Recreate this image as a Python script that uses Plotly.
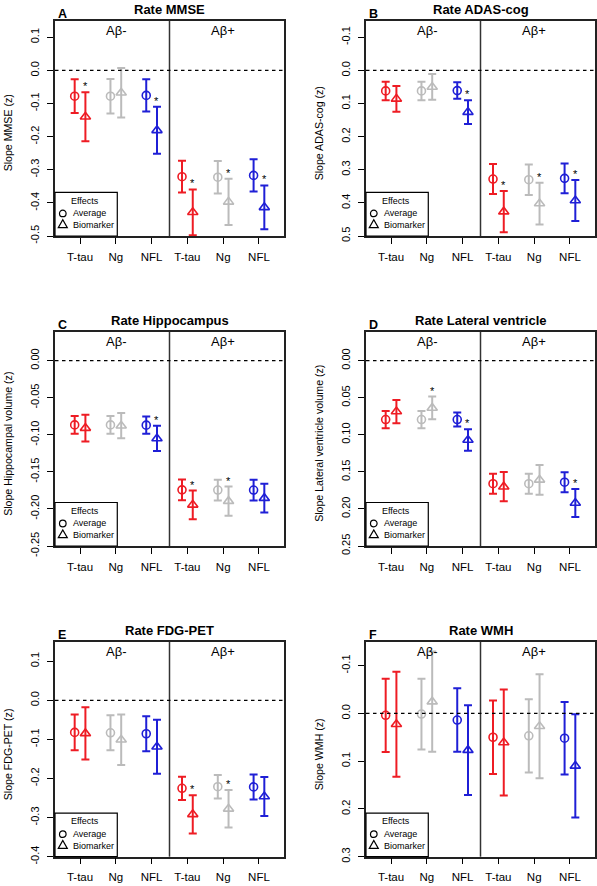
import plotly.graph_objects as go

W, H = 597, 886

# ---------------- data ----------------
biomarkers = ["T-tau", "Ng", "NFL"]
groups = ["Aβ-", "Aβ+"]
x_ticktext = biomarkers * 2
colors = ["#EE1C24", "#BBBBBB", "#1F1FD6"]

titles = ["Rate MMSE", "Rate ADAS-cog", "Rate Hippocampus",
          "Rate Lateral ventricle", "Rate FDG-PET", "Rate WMH"]
letters = ["A", "B", "C", "D", "E", "F"]
ytitles = ["Slope MMSE (z)", "Slope ADAS-cog (z)", "Slope Hippocampal volume (z)",
           "Slope Lateral ventricle volume (z)", "Slope FDG-PET (z)", "Slope WMH (z)"]

# order: T-tau, Ng, NFL (Aβ-), T-tau, Ng, NFL (Aβ+)
mmse_avg = [-0.078, -0.078, -0.0755, -0.321, -0.3225, -0.317]
mmse_avg_err = [0.051, 0.052, 0.049, 0.048, 0.049, 0.049]
mmse_bio = [-0.140, -0.0675, -0.181, -0.4285, -0.397, -0.4135]
mmse_bio_err = [0.074, 0.075, 0.071, 0.069, 0.070, 0.066]
mmse_stars = [0, 2, 3, 4, 5]

adas_avg = [0.062, 0.062, 0.061, 0.328, 0.330, 0.326]
adas_avg_err = [0.028, 0.028, 0.025, 0.045, 0.046, 0.045]
adas_bio = [0.086, 0.050, 0.126, 0.4265, 0.402, 0.393]
adas_bio_err = [0.039, 0.039, 0.036, 0.062, 0.063, 0.062]
adas_stars = [2, 3, 4, 5]

hippo_avg = [-0.0867, -0.0867, -0.087, -0.1743, -0.1745, -0.1745]
hippo_avg_err = [0.012, 0.012, 0.0117, 0.014, 0.014, 0.014]
hippo_bio = [-0.091, -0.0878, -0.105, -0.1945, -0.1895, -0.1855]
hippo_bio_err = [0.018, 0.017, 0.017, 0.0193, 0.0197, 0.0193]
hippo_stars = [2, 3, 4]

vent_avg = [0.0795, 0.0795, 0.0795, 0.166, 0.166, 0.164]
vent_avg_err = [0.0117, 0.0117, 0.0094, 0.0135, 0.0135, 0.0135]
vent_bio = [0.0687, 0.0638, 0.107, 0.170, 0.1608, 0.192]
vent_bio_err = [0.0157, 0.0153, 0.0146, 0.0198, 0.0202, 0.0189]
vent_stars = [1, 2, 5]

fdg_avg = [-0.082, -0.083, -0.0855, -0.225, -0.221, -0.2215]
fdg_avg_err = [0.0455, 0.0446, 0.0446, 0.0298, 0.0298, 0.032]
fdg_bio = [-0.0846, -0.101, -0.1186, -0.2917, -0.2776, -0.246]
fdg_bio_err = [0.0668, 0.0646, 0.069, 0.049, 0.048, 0.050]
fdg_stars = [3, 4]

wmh_avg = [0.004, 0.0014, 0.014, 0.050, 0.047, 0.052]
wmh_avg_err = [0.0766, 0.074, 0.0664, 0.077, 0.0766, 0.076]
wmh_bio = [0.0227, -0.0245, 0.077, 0.061, 0.027, 0.110]
wmh_bio_err = [0.110, 0.105, 0.094, 0.111, 0.109, 0.108]
wmh_stars = []

ytickvals = [
    [-0.5, -0.4, -0.3, -0.2, -0.1, 0.0, 0.1],
    [-0.1, 0.0, 0.1, 0.2, 0.3, 0.4, 0.5],
    [-0.25, -0.20, -0.15, -0.10, -0.05, 0.00],
    [0.00, 0.05, 0.10, 0.15, 0.20, 0.25],
    [-0.4, -0.3, -0.2, -0.1, 0.0, 0.1],
    [-0.1, 0.0, 0.1, 0.2, 0.3],
]
yticktext = [
    ["-0.5", "-0.4", "-0.3", "-0.2", "-0.1", "0.0", "0.1"],
    ["-0.1", "0.0", "0.1", "0.2", "0.3", "0.4", "0.5"],
    ["-0.25", "-0.20", "-0.15", "-0.10", "-0.05", "0.00"],
    ["0.00", "0.05", "0.10", "0.15", "0.20", "0.25"],
    ["-0.4", "-0.3", "-0.2", "-0.1", "0.0", "0.1"],
    ["-0.1", "0.0", "0.1", "0.2", "0.3"],
]
yranges = [[-0.5, 0.15], [0.5, -0.15], [-0.25, 0.039],
           [0.25, -0.039], [-0.4, 0.15], [0.3, -0.15]]

panels = [
    (mmse_avg, mmse_avg_err, mmse_bio, mmse_bio_err, mmse_stars),
    (adas_avg, adas_avg_err, adas_bio, adas_bio_err, adas_stars),
    (hippo_avg, hippo_avg_err, hippo_bio, hippo_bio_err, hippo_stars),
    (vent_avg, vent_avg_err, vent_bio, vent_bio_err, vent_stars),
    (fdg_avg, fdg_avg_err, fdg_bio, fdg_bio_err, fdg_stars),
    (wmh_avg, wmh_avg_err, wmh_bio, wmh_bio_err, wmh_stars),
]

# ---------------- layout geometry ----------------
col_px = [(55, 284), (366, 595)]
row_px = [(20.7, 236), (331.7, 546), (641.7, 856.7)]
OFF = 0.15
FONT = "Liberation Sans, Arial, sans-serif"

fig = go.Figure()
layout = dict(width=W, height=H, margin=dict(l=0, r=0, t=0, b=0, autoexpand=False),
              paper_bgcolor="white", plot_bgcolor="white", showlegend=False,
              font=dict(family=FONT, color="black"))
shapes, annotations = [], []

for k, (avg, avg_err, bio, bio_err, stars) in enumerate(panels):
    row, col = divmod(k, 2)
    sfx = "" if k == 0 else str(k + 1)
    xr, yr = "x" + sfx, "y" + sfx
    (xl, xrpx), (yt, yb) = col_px[col], row_px[row]
    xdom = [xl / W, xrpx / W]
    ydom = [1 - yb / H, 1 - yt / H]
    layout["xaxis" + sfx] = dict(
        domain=xdom, anchor=yr, range=[0.3, 6.7], automargin=False,
        tickvals=[1, 2, 3, 4, 5, 6], ticktext=x_ticktext,
        ticks="outside", ticklen=6, tickwidth=1, tickcolor="black",
        showline=True, mirror=True, linecolor="#222", linewidth=1.5,
        showgrid=False, zeroline=False, tickfont=dict(size=11.5),
        ticklabelstandoff=3, fixedrange=True)
    layout["yaxis" + sfx] = dict(
        domain=ydom, anchor=xr, range=yranges[k], automargin=False,
        tickvals=ytickvals[k], ticktext=yticktext[k], tickangle=-90,
        ticks="outside", ticklen=6, tickwidth=1, tickcolor="black",
        showline=True, mirror=True, linecolor="#222", linewidth=1.5,
        showgrid=False, zeroline=False, tickfont=dict(size=11),
        ticklabelstandoff=4, fixedrange=True)

    for ci in range(3):
        idx = [ci, ci + 3]
        fig.add_trace(go.Scatter(
            x=[i + 1 - OFF for i in idx], y=[avg[i] for i in idx],
            error_y=dict(type="data", array=[avg_err[i] for i in idx],
                         color=colors[ci], thickness=2, width=4),
            mode="markers",
            marker=dict(symbol="circle-open", size=8, color=colors[ci],
                        line=dict(width=1.6, color=colors[ci])),
            xaxis=xr, yaxis=yr, hoverinfo="skip"))
        fig.add_trace(go.Scatter(
            x=[i + 1 + OFF for i in idx], y=[bio[i] for i in idx],
            error_y=dict(type="data", array=[bio_err[i] for i in idx],
                         color=colors[ci], thickness=2, width=4),
            mode="markers",
            marker=dict(symbol="triangle-up-open", size=9, color=colors[ci],
                        line=dict(width=1.6, color=colors[ci])),
            xaxis=xr, yaxis=yr, hoverinfo="skip"))

    # stars above biomarker-effect bars
    rev = yranges[k][0] > yranges[k][1]
    for i in stars:
        top = bio[i] - bio_err[i] if rev else bio[i] + bio_err[i]
        annotations.append(dict(x=i + 1 + OFF, y=top, xref=xr, yref=yr, text="*",
                                showarrow=False, xanchor="center", yanchor="bottom",
                                yshift=-2, font=dict(size=11)))

    # divider and zero line
    shapes.append(dict(type="line", xref=xr, yref=yr + " domain", x0=3.5, x1=3.5,
                       y0=0, y1=1, line=dict(color="#333", width=1.5)))
    shapes.append(dict(type="line", xref=xr + " domain", yref=yr, x0=0, x1=1,
                       y0=0, y1=0, line=dict(color="black", width=1.3, dash="3.5px,3.5px")))

    # group labels
    for g, gx in zip(groups, [2, 5]):
        annotations.append(dict(x=gx, y=1, xref=xr, yref=yr + " domain", text=g,
                                showarrow=False, xanchor="center", yanchor="top",
                                font=dict(size=13)))

    # titles
    annotations.append(dict(x=(xdom[0] + xdom[1]) / 2, y=1 - (yt - 11) / H,
                            xref="paper", yref="paper", text="<b>%s</b>" % titles[k],
                            showarrow=False, xanchor="center", yanchor="middle",
                            font=dict(size=13)))
    annotations.append(dict(x=(xl + 1) / W, y=1 - (yt - 7) / H, xref="paper", yref="paper",
                            text="<b>%s</b>" % letters[k], showarrow=False,
                            xanchor="left", yanchor="middle", font=dict(size=12.5)))
    annotations.append(dict(x=(xl - 47) / W, y=1 - ((yt + yb) / 2 + 5) / H,
                            xref="paper", yref="paper", text=ytitles[k], textangle=-90,
                            showarrow=False, xanchor="center", yanchor="middle",
                            font=dict(size=10.6)))

    # legend box
    xd, yd = xr + " domain", yr + " domain"
    shapes.append(dict(type="rect", xref=xd, yref=yd, x0=0, x1=0.272, y0=0, y1=0.203,
                       line=dict(color="black", width=1.2), fillcolor="white", layer="above"))
    annotations.append(dict(x=0.131, y=0.164, xref=xd, yref=yd, text="Effects",
                            showarrow=False, xanchor="center", yanchor="middle",
                            font=dict(size=9)))
    shapes.append(dict(type="circle", xref=xd, yref=yd, xsizemode="pixel", ysizemode="pixel",
                       xanchor=0.034, yanchor=0.105, x0=-3.3, x1=3.3, y0=-3.3, y1=3.3,
                       line=dict(color="black", width=1.2), layer="above"))
    shapes.append(dict(type="path", xref=xd, yref=yd, xsizemode="pixel", ysizemode="pixel",
                       xanchor=0.034, yanchor=0.051, path="M-4.5,-2.6L4.5,-2.6L0,5.2Z",
                       line=dict(color="black", width=1.2), layer="above"))
    annotations.append(dict(x=0.0686, y=0.105, xref=xd, yref=yd, text="Average",
                            showarrow=False, xanchor="left", yanchor="middle",
                            font=dict(size=9)))
    annotations.append(dict(x=0.0686, y=0.051, xref=xd, yref=yd, text="Biomarker",
                            showarrow=False, xanchor="left", yanchor="middle",
                            font=dict(size=9)))

layout["shapes"] = shapes
layout["annotations"] = annotations
fig.update_layout(**layout)
fig.write_html("out.html", config={"displayModeBar": False},
               post_script="document.body.style.margin='0px';")
